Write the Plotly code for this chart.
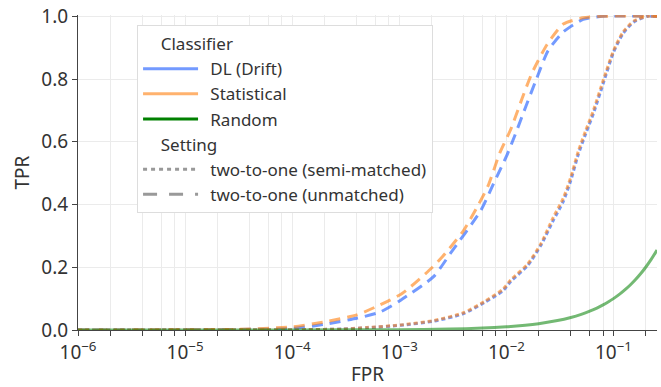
import math
import plotly.graph_objects as go

# ---------------- data ----------------
stat_unm_fpr = [1e-6, 1e-5, 3e-5, 1e-4, 2e-4, 4e-4, 6.6e-4, 1.07e-3, 2.04e-3, 2.69e-3, 3.98e-3,
                5.5e-3, 6.76e-3, 8.7e-3, 0.011, 0.0141, 0.0174, 0.024, 0.034, 0.052, 0.08, 0.255]
stat_unm_tpr = [0.0, 0.001, 0.002, 0.01, 0.026, 0.048, 0.08, 0.117, 0.20, 0.244, 0.317,
                0.40, 0.46, 0.565, 0.64, 0.74, 0.82, 0.91, 0.975, 0.995, 1.0, 1.0]

dl_unm_fpr = [1e-6, 1e-5, 1e-4, 2e-4, 4.07e-4, 6.6e-4, 1.03e-3, 2.09e-3, 3.0e-3, 5.75e-3, 7.6e-3,
              0.0102, 0.012, 0.0151, 0.0186, 0.0245, 0.034, 0.052, 0.08, 0.255]
dl_unm_tpr = [0.0, 0.0005, 0.005, 0.018, 0.038, 0.057, 0.095, 0.17, 0.244, 0.38, 0.467,
              0.56, 0.62, 0.71, 0.79, 0.89, 0.95, 0.99, 1.0, 1.0]

stat_semi_fpr = [1e-6, 1e-5, 1e-4, 3e-4, 5.0e-4, 1.03e-3, 2.09e-3, 3.98e-3, 6.2e-3, 9.3e-3, 0.011,
                 0.0158, 0.021, 0.0275, 0.034, 0.0398, 0.047, 0.055, 0.065, 0.081, 0.1, 0.123,
                 0.155, 0.209, 0.255]
stat_semi_tpr = [0.0, 0.0005, 0.001, 0.003, 0.008, 0.016, 0.03, 0.055, 0.09, 0.13, 0.16,
                 0.21, 0.275, 0.36, 0.42, 0.485, 0.57, 0.635, 0.70, 0.80, 0.89, 0.95,
                 0.985, 1.0, 1.0]

dl_semi_fpr = [1e-6, 1e-5, 1e-4, 3e-4, 5.0e-4, 1.03e-3, 2.09e-3, 3.98e-3, 6.2e-3, 9.3e-3, 0.011,
               0.0158, 0.021, 0.0275, 0.034, 0.0398, 0.047, 0.055, 0.065, 0.081, 0.1, 0.123,
               0.155, 0.209, 0.255]
dl_semi_tpr = [0.0, 0.0005, 0.001, 0.003, 0.007, 0.015, 0.028, 0.052, 0.087, 0.125, 0.155,
               0.205, 0.27, 0.35, 0.41, 0.475, 0.56, 0.625, 0.69, 0.79, 0.885, 0.945,
               0.982, 1.0, 1.0]

random_fpr = [1e-6, 1e-5, 1e-4, 1e-3, 3e-3, 0.006, 0.01, 0.015, 0.02, 0.03, 0.04, 0.05, 0.06,
              0.07, 0.08, 0.09, 0.1, 0.115, 0.13, 0.145, 0.16, 0.18, 0.2, 0.225, 0.255]
random_tpr = [1e-6, 1e-5, 1e-4, 1e-3, 3e-3, 0.006, 0.01, 0.015, 0.02, 0.03, 0.04, 0.05, 0.06,
              0.07, 0.08, 0.09, 0.1, 0.115, 0.13, 0.145, 0.16, 0.18, 0.2, 0.225, 0.255]

classifier_names = ["DL (Drift)", "Statistical", "Random"]
setting_names = ["two-to-one (semi-matched)", "two-to-one (unmatched)"]

x_tick_vals = [1e-6, 1e-5, 1e-4, 1e-3, 1e-2, 1e-1]
x_tick_text = ["10<sup>\u22126</sup>", "10<sup>\u22125</sup>", "10<sup>\u22124</sup>",
               "10<sup>\u22123</sup>", "10<sup>\u22122</sup>", "10<sup>\u22121</sup>"]
x_min, x_max = 1e-6, 0.255
y_ticks = [0.0, 0.2, 0.4, 0.6, 0.8, 1.0]

# ---------------- style ----------------
BLUE = "rgba(40,100,255,0.65)"
ORANGE = "rgba(255,127,14,0.6)"
GREEN = "rgba(0,128,0,0.55)"
GREEN_LEG = "#008000"
GRAY_LEG = "rgba(128,128,128,0.8)"
DOT = "4px,3px"
DASH = "11px,7px"
FONT = "Noto Sans"
GRID = "#ebebeb"
AXIS = "#444444"
PAD = "\u00a0\u2009"  # small gap between legend symbol and text

fig = go.Figure()

def add(x, y, color, dash, width=3):
    fig.add_trace(go.Scatter(x=x, y=y, mode="lines", showlegend=False, hoverinfo="skip",
                             line=dict(color=color, dash=dash, width=width, shape="spline", smoothing=0.6)))

add(dl_semi_fpr, dl_semi_tpr, BLUE, DOT)
add(dl_unm_fpr, dl_unm_tpr, BLUE, DASH)
add(stat_semi_fpr, stat_semi_tpr, ORANGE, DOT)
add(stat_unm_fpr, stat_unm_tpr, ORANGE, DASH)
add(random_fpr, random_tpr, GREEN, "solid")

# legend-only entries
leg_colors = [BLUE, ORANGE, GREEN_LEG]
for i, (nm, c) in enumerate(zip(classifier_names, leg_colors)):
    fig.add_trace(go.Scatter(x=[None], y=[None], mode="lines", name=PAD + nm, legendgroup="cls",
                             legendgrouptitle=dict(text="\u00a0\u00a0\u00a0\u00a0Classifier") if i == 0 else None,
                             line=dict(color=c, width=3)))
for i, (nm, d) in enumerate(zip(setting_names, ["4px,4px", "14px,12px"])):
    fig.add_trace(go.Scatter(x=[None], y=[None], mode="lines", name=PAD + nm, legendgroup="set",
                             legendgrouptitle=dict(text="\u00a0\u00a0\u00a0\u00a0Setting") if i == 0 else None,
                             line=dict(color=GRAY_LEG, width=3, dash=d)))

minor_vals = [m * 10 ** e for e in range(-6, 0) for m in (2, 4, 6, 8) if m * 10 ** e <= x_max]

fig.update_layout(
    width=661, height=387,
    margin=dict(l=78, r=4, t=15, b=57),
    paper_bgcolor="white", plot_bgcolor="white",
    font=dict(family=FONT, size=19, color="#333333"),
    legend=dict(x=0.102, y=0.968, xanchor="left", yanchor="top",
                bgcolor="white", bordercolor="#dddddd", borderwidth=1,
                font=dict(size=17, color="#333333"), tracegroupgap=0,
                grouptitlefont=dict(size=17, color="#333333"), itemwidth=55),
    xaxis=dict(type="log", range=[math.log10(x_min), math.log10(x_max)], automargin=False,
               tickmode="array", tickvals=x_tick_vals, ticktext=x_tick_text,
               showgrid=True, gridcolor=GRID,
               showline=True, linecolor=AXIS, ticks="outside", ticklen=5, tickcolor=AXIS,
               zeroline=False, title=dict(text="FPR", font=dict(size=19), standoff=4),
               minor=dict(tickmode="array", tickvals=minor_vals, ticks="outside", ticklen=5,
                          tickcolor=AXIS, showgrid=True, gridcolor=GRID)),
    yaxis=dict(range=[0, 1.004], tickvals=y_ticks, tickformat=".1f", showgrid=True, gridcolor=GRID,
               automargin=False,
               showline=True, linecolor=AXIS, ticks="outside", ticklen=5, tickcolor=AXIS,
               zeroline=False, title=dict(text="TPR", font=dict(size=19), standoff=6)),
)

fig.write_html("out.html", config={"displayModeBar": False},
               post_script="document.body.style.margin='0px';")
